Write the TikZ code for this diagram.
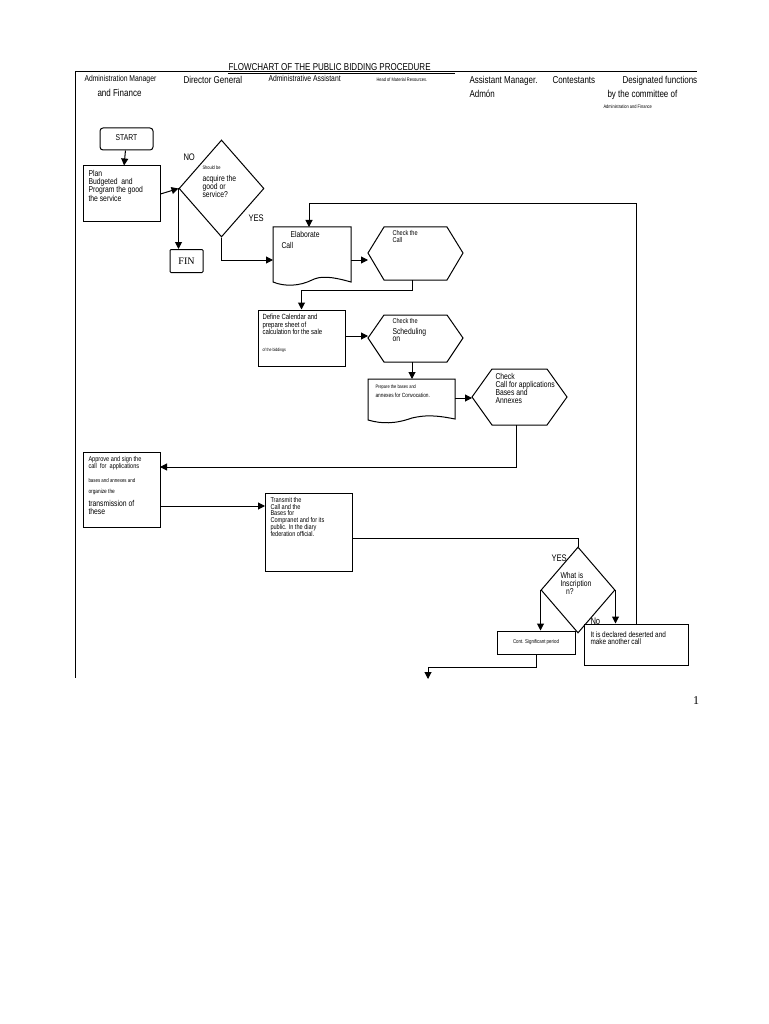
\documentclass[tikz,border=0pt]{standalone}
\usepackage{fontspec}
\setmainfont{Liberation Sans}
\usepackage{graphicx}
\usetikzlibrary{arrows.meta,shapes.geometric}
\newcommand\tx[2][8.5]{\fontsize{#1}{#1}\selectfont\renewcommand\arraystretch{0.78}\scalebox{0.8}[1]{\begin{tabular}{@{}l@{}}#2\end{tabular}}}
\begin{document}
\begin{tikzpicture}[x=1pt,y=-1pt,line width=1pt,
  box/.style={draw,rectangle,inner sep=0pt},
  lab/.style={inner sep=0pt,anchor=north west},
  ar/.style={-{Triangle[length=7pt,width=7pt]}}]
\useasboundingbox (0,0) rectangle (768,1024);
% frame
\draw (75,72) -- (697,72);
\draw (75,72) -- (75,678);
% title & headers
\node[lab,anchor=south west] at (228,73) {\tx[10]{FLOWCHART OF THE PUBLIC BIDDING PROCEDURE}};
\draw[line width=0.7pt] (228,73.5) -- (455,73.5);
\node[lab] at (84,75) {\tx[8.5]{Administration Manager}};
\node[lab] at (97,89) {\tx[10]{and Finance}};
\node[lab] at (183,76) {\tx[10]{Director General}};
\node[lab] at (268,75) {\tx[8.5]{Administrative Assistant}};
\node[lab] at (376,77) {\tx[5]{Head of Material Resources.}};
\node[lab] at (469,76) {\tx[10]{Assistant Manager.}};
\node[lab] at (469,90) {\tx[10]{Admón}};
\node[lab] at (552,76) {\tx[10]{Contestants}};
\node[lab] at (622,76) {\tx[10]{Designated functions}};
\node[lab] at (607,90) {\tx[10]{by the committee of}};
\node[lab] at (603,104) {\tx[5]{Administration and Finance}};
% START
\node[draw,rounded corners=3pt,minimum width=53pt,minimum height=22pt,inner sep=0pt] (start) at (126.5,139) {\tx[8.5]{START}};
% Plan
\node[box,minimum width=77pt,minimum height=56pt] (plan) at (121.5,194) {};
\node[lab] at (88,170) {\tx[8.5]{Plan\\Budgeted\ \ and\\Program the good\\the service}};
% diamond
\node[draw,diamond,minimum width=85pt,minimum height=97pt,inner sep=0pt] (dec) at (221.5,188.5) {};
\node[lab] at (202,165) {\tx[5]{Should be}};
\node[lab] at (202,175) {\tx[8.5]{acquire the\\good or\\service?}};
\node[lab] at (183,153) {\tx[9.5]{NO}};
\node[lab] at (248,214) {\tx[9.5]{YES}};
% FIN
\node[box,minimum width=33pt,minimum height=23pt,rounded corners=1pt] (fin) at (186.5,261) {\fontfamily{lmr}\fontspec{Liberation Serif}\fontsize{10}{10}\selectfont FIN};
% Elaborate doc
\draw (273,227) -- (351,227) -- (351,282) .. controls (330,276) and (320,276) .. (312,280) .. controls (300,286) and (285,287) .. (273,282) -- cycle;
\node[inner sep=0pt] (elab) at (312,250) {};
\coordinate (elabT) at (309,227);
\coordinate (elabL) at (273,260);
\coordinate (elabR) at (351,260);
\node[lab] at (290,231) {\tx[8.5]{Elaborate}};
\node[lab] at (281,242) {\tx[8.5]{Call}};
% hex 1
\draw (368,253) -- (384,227) -- (447,227) -- (463,253) -- (447,280) -- (384,280) -- cycle;
\coordinate (h1L) at (368,260);
\coordinate (h1B) at (412,280);
\node[lab] at (392,230) {\tx[7]{Check the\\Call}};
% Define
\node[box,minimum width=87pt,minimum height=56pt] (def) at (301.5,338) {};
\node[lab] at (262,314) {\tx[7.5]{Define Calendar and\\prepare sheet of\\calculation for the sale}};
\node[lab] at (262,348) {\tx[4.5]{of the biddings}};
% hex 2
\draw (368,338) -- (384,315) -- (447,315) -- (463,338) -- (447,362) -- (384,362) -- cycle;
\coordinate (h2L) at (368,336);
\coordinate (h2B) at (412,362);
\node[lab] at (392,318) {\tx[7]{Check the}};
\node[lab] at (392,328) {\tx[8.5]{Scheduling\\on}};
% Prepare doc
\draw (368,379) -- (455,379) -- (455,419) .. controls (435,415) and (425,415) .. (412,418) .. controls (395,424) and (382,424) .. (368,420) -- cycle;
\coordinate (prT) at (412,379);
\coordinate (prR) at (455,398);
\node[lab] at (375,384) {\tx[5]{Prepare the bases and}};
\node[lab] at (375,393) {\tx[6]{annexes for Convocation.}};
% hex 3
\draw (472,397) -- (492,369) -- (547,369) -- (567,397) -- (547,425) -- (492,425) -- cycle;
\coordinate (h3L) at (472,398);
\coordinate (h3B) at (516,425);
\node[lab] at (495,373) {\tx[8.5]{Check\\Call for applications\\Bases and\\Annexes}};
% Approve
\node[box,minimum width=77pt,minimum height=75pt] (app) at (121.5,489.5) {};
\node[lab] at (88,456) {\tx[7]{Approve and sign the\\call\ \ for\ \ applications}};
\node[lab] at (88,478) {\tx[5.5]{bases and annexes and}};
\node[lab] at (88,489) {\tx[6]{organize the}};
\node[lab] at (88,500) {\tx[8.5]{transmission of\\these}};
\coordinate (appR1) at (160,467);
\coordinate (appR2) at (160,506);
% Transmit
\node[box,minimum width=87pt,minimum height=78pt] (tra) at (308.5,532) {};
\node[lab] at (270,497) {\tx[7]{Transmit the\\Call and the\\Bases for\\Compranet and for its\\public. In the diary\\federation official.}};
\coordinate (traL) at (265,506);
\coordinate (traR) at (352,538);
% decision 2
\node[draw,diamond,minimum width=74pt,minimum height=86pt,inner sep=0pt] (dec2) at (578,590) {};
\node[lab] at (560,572) {\tx[8.5]{What is\\Inscription\\\ \ \ n?}};
\node[lab] at (551,554) {\tx[9.5]{YES}};
\node[lab] at (590,617) {\tx[9.5]{No}};
% Cont
\node[box,minimum width=78pt,minimum height=23pt] (cont) at (536,642.5) {\tx[5.5]{Cont. Significant period}};
% declared
\node[box,minimum width=104pt,minimum height=41pt] (dese) at (636,644.5) {};
\node[lab] at (590,631) {\tx[8]{It is declared deserted and\\make another call}};
\coordinate (bot) at (428,679);
% page number
\node[inner sep=0pt] at (696,701) {\fontspec{Liberation Serif}\fontsize{12}{12}\selectfont 1};
% connectors
\draw[ar] (start) -- (plan);
\draw[ar] (plan.east) -- (dec.west);
\draw[ar] (dec.west) -- (fin.north -| dec.west);
\draw[ar] (dec.south) |- (elabL);
\draw[ar] (elabR) -- (h1L);
\draw[ar] (h1B) -- (412,290) -| (def.north);
\draw[ar] (def.east |- h2L) -- (h2L);
\draw[ar] (h2B) -- (prT);
\draw[ar] (prR) -- (h3L);
\draw[ar] (h3B) |- (appR1);
\draw[ar] (appR2) -- (traL);
\draw (traR) -| (dec2.north);
\draw[ar] (dec2.west) -- (cont.north -| dec2.west);
\draw[ar] (dec2.east) -- (dese.north -| dec2.east);
\draw[ar] (dese.north) |- (309,204) -- (elabT);
\draw[ar] (cont.south) |- (428,667) -- (bot);
\end{tikzpicture}
\end{document}
